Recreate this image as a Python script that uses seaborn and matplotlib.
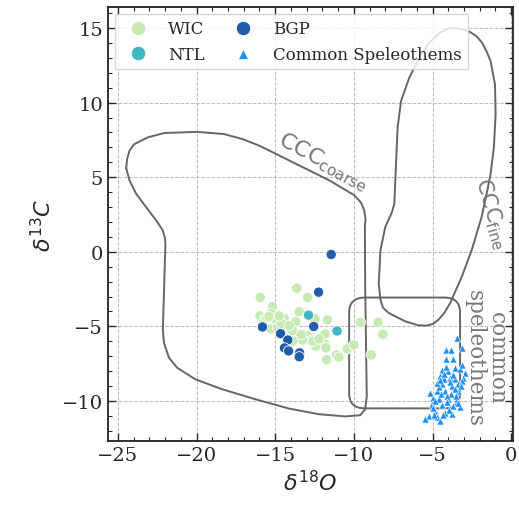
import numpy as np
import pandas as pd
import matplotlib
matplotlib.use('Agg')
import matplotlib.pyplot as plt
from matplotlib.patches import FancyBboxPatch
import seaborn as sns

# isotope data (d18O, d13C)
wic_x = [-15.95, -13.63, -12.95, -15.17, -13.48, -15.97, -15.27, -15.70, -15.00, -14.43,
         -13.69, -12.47, -11.69, -9.58, -8.46, -8.16, -15.27, -14.85, -14.32, -14.00,
         -13.80, -13.38, -12.95, -12.74, -12.26, -11.84, -12.42, -11.84, -11.78, -13.27,
         -10.42, -10.00, -11.10, -10.95, -11.73, -8.90, -15.80, -15.55, -14.60, -13.90,
         -12.61, -12.22, -13.35, -13.88, -14.10, -15.40, -14.75]
wic_y = [-3.07, -2.44, -3.07, -3.69, -4.02, -4.29, -4.13, -4.56, -4.51, -4.47,
         -4.69, -4.51, -4.56, -4.73, -4.73, -5.53, -5.18, -5.07, -5.13, -5.22,
         -5.40, -5.51, -5.62, -5.96, -5.78, -5.51, -6.33, -6.20, -6.44, -5.91,
         -6.51, -6.24, -6.91, -7.07, -7.24, -6.91, -4.84, -4.40, -4.80, -5.30,
         -6.00, -5.84, -5.56, -6.00, -4.95, -4.35, -4.30]
ntl_x = [-12.88, -11.07]
ntl_y = [-4.25, -5.31]
bgp_x = [-11.44, -12.24, -15.81, -12.55, -14.66, -14.20, -14.41, -14.15, -13.45, -13.47]
bgp_y = [-0.18, -2.71, -5.04, -5.01, -5.49, -5.92, -6.45, -6.65, -6.78, -7.04]

spel_x = [-3.42, -3.14, -4.14, -3.82, -4.16, -3.67, -3.56, -3.25, -4.41, -3.99,
          -2.93, -3.04, -4.51, -4.24, -3.88, -3.57, -3.35, -4.41, -3.78, -3.35,
          -4.73, -4.20, -3.82, -4.94, -4.62, -3.99, -3.46, -5.04, -4.41, -3.67,
          -3.25, -4.83, -4.20, -5.25, -4.73, -4.51, -5.46, -3.78, -3.35, -5.15,
          -3.14, -4.05, -4.60, -4.30, -3.60, -3.95, -4.85, -4.45, -3.10, -3.70,
          -4.10, -5.00, -4.35, -3.50, -3.90, -4.70, -4.15, -4.55, -3.20, -4.90]
spel_y = [-5.78, -6.44, -6.60, -6.60, -7.22, -7.18, -7.78, -7.89, -7.93, -8.00,
          -8.11, -8.44, -8.33, -8.56, -8.44, -8.56, -8.89, -8.89, -9.00, -9.33,
          -9.33, -9.33, -9.56, -9.78, -9.89, -9.89, -9.89, -10.22, -10.29, -10.33,
          -10.44, -10.67, -10.78, -11.00, -11.11, -11.33, -11.22, -10.89, -10.11, -9.44,
          -8.67, -9.70, -9.10, -8.20, -9.20, -10.60, -10.00, -9.55, -7.60, -8.25,
          -10.05, -10.45, -10.95, -9.65, -8.75, -8.80, -7.70, -8.60, -9.00, -10.95]

# hand-traced field outlines
coarse_x = [-24.47, -24.41, -24.26, -23.95, -23.10, -22.05, -20.00, -18.25, -17.09, -16.00,
            -13.67, -11.55, -9.96, -9.55, -9.35, -9.26, -9.30, -9.28, -9.22, -9.18,
            -9.28, -9.60, -10.55, -12.24, -14.14, -16.26, -18.37, -20.06, -21.23, -21.75,
            -22.07, -22.14, -21.98, -22.00, -22.15, -22.57, -23.21, -23.84, -24.26, -24.47]
coarse_y = [5.60, 6.22, 6.78, 7.22, 7.67, 7.96, 8.04, 7.89, 7.56, 7.11,
            5.89, 4.78, 3.78, 3.30, 2.80, 2.22, 1.67, -2.33, -6.78, -9.67,
            -10.56, -10.96, -11.04, -10.89, -10.51, -9.89, -9.22, -8.56, -7.78, -7.11,
            -6.11, -5.22, 0.44, 0.89, 1.44, 2.11, 3.00, 3.89, 4.78, 5.60]
fine_x = [-3.80, -3.20, -2.68, -2.20, -1.84, -1.55, -1.31, -1.03, -0.99, -1.10,
          -1.31, -1.52, -1.88, -2.51, -3.14, -3.88, -4.25, -4.62, -5.00, -5.40,
          -5.90, -6.73, -7.78, -8.15, -8.31, -8.42, -8.31, -8.00, -7.60, -7.43,
          -7.32, -7.22, -7.00, -6.48, -5.84, -5.30, -4.64, -4.20, -3.80]
fine_y = [15.00, 14.95, 14.78, 14.45, 14.00, 13.40, 12.78, 11.22, 9.22, 7.00,
          5.22, 4.11, 2.33, 0.11, -1.67, -3.44, -4.10, -4.56, -4.85, -4.95,
          -4.93, -4.67, -4.11, -3.75, -3.22, -2.11, 0.11, 1.67, 2.60, 3.20,
          5.89, 8.33, 10.11, 11.67, 13.00, 13.90, 14.60, 14.90, 15.00]
box_x = [-10.30, -3.25]
box_y = [-10.50, -3.07]

sns.set_style('ticks')
plt.rcParams['font.family'] = ['DejaVu Serif']
plt.rcParams['mathtext.fontset'] = 'dejavusans'

fig = plt.figure(figsize=(5.19, 5.10), dpi=100)
ax = fig.add_axes([0.208, 0.133, 0.78, 0.851])

line_col = '#666666'
ax.plot(coarse_x, coarse_y, color=line_col, lw=1.4, zorder=2, solid_joinstyle='round')
ax.plot(fine_x, fine_y, color=line_col, lw=1.4, zorder=2, solid_joinstyle='round')
box = FancyBboxPatch((box_x[0], box_y[0]), box_x[1] - box_x[0], box_y[1] - box_y[0],
                     boxstyle='round,pad=0,rounding_size=1.0', fill=False,
                     edgecolor=line_col, lw=1.4, zorder=2)
ax.add_patch(box)

df = pd.DataFrame({
    'd18O': wic_x + ntl_x + bgp_x,
    'd13C': wic_y + ntl_y + bgp_y,
    'site': ['WIC'] * len(wic_x) + ['NTL'] * len(ntl_x) + ['BGP'] * len(bgp_x),
})
pal = {'WIC': '#c7e9b4', 'NTL': '#41b6c4', 'BGP': '#225ea8'}
sns.scatterplot(data=df, x='d18O', y='d13C', hue='site', palette=pal,
                s=55, edgecolor='white', linewidth=0.6, ax=ax, zorder=3)
sns.scatterplot(x=spel_x, y=spel_y, marker='^', color='#1e8fff', s=26,
                edgecolor='white', linewidth=0.4, ax=ax, zorder=4,
                label='Common Speleothems')

ax.text(-11.9, 6.1, r'CCC$_{\mathrm{coarse}}$', family='DejaVu Sans', fontsize=16,
        color='#777777', rotation=-28, ha='center', va='center')
ax.text(-1.25, 2.6, r'CCC$_{\mathrm{fine}}$', family='DejaVu Sans', fontsize=15,
        color='#777777', rotation=-74, ha='center', va='center')
ax.text(-1.6, -7.1, 'common\nspeleothems', fontsize=15.5, color='#777777',
        rotation=-90, ha='center', va='center', multialignment='center',
        linespacing=1.0)

ax.set_xlim(-25.63, 0.1)
ax.set_ylim(-12.7, 16.4)
ax.set_xticks([-25, -20, -15, -10, -5, 0])
ax.set_yticks([-10, -5, 0, 5, 10, 15])
ax.set_xticks(np.arange(-25, 1, 1), minor=True)
ax.set_yticks(np.arange(-12, 17, 1), minor=True)
ax.tick_params(which='both', direction='in', top=True, right=True, labelsize=14)
ax.tick_params(which='major', length=6, width=1)
ax.tick_params(which='minor', length=3, width=0.8)
ax.grid(True, which='major', linestyle='--', color='#bbbbbb', lw=0.7)
ax.set_axisbelow(True)
for sp in ax.spines.values():
    sp.set_linewidth(1.3)
    sp.set_color('#222222')

ax.set_xlabel(r'$\delta^{18}O$', fontsize=16)
ax.set_ylabel(r'$\delta^{13}C$', fontsize=16)

handles, labels = ax.get_legend_handles_labels()
order = [labels.index(k) for k in ['WIC', 'NTL', 'BGP', 'Common Speleothems']]
leg = ax.legend([handles[i] for i in order], [labels[i] for i in order],
                ncol=2, loc='upper left', fontsize=12, markerscale=1.4,
                frameon=True, fancybox=False, edgecolor='#cccccc',
                borderaxespad=0.4, columnspacing=1.3)

fig.savefig('out.png', dpi=100)
